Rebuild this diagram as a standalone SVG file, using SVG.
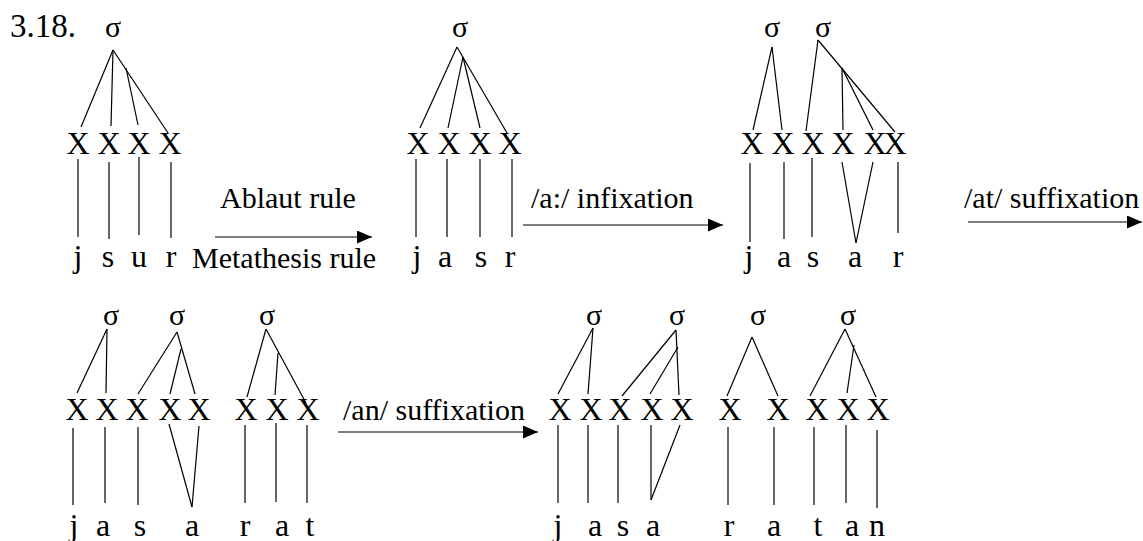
<svg xmlns="http://www.w3.org/2000/svg" width="1143" height="541" viewBox="0 0 1143 541" font-family="Times New Roman, Times, Liberation Serif, Nimbus Roman, DejaVu Serif, serif">
  <defs>
    <marker id="arrowhead" markerUnits="userSpaceOnUse" markerWidth="16" markerHeight="14" refX="15" refY="6.5" orient="auto">
      <path d="M0,0 L15,6.5 L0,13 z" fill="#000"/>
    </marker>
    <style>
      text { font-family: "Times New Roman", Times, "Liberation Serif", "Nimbus Roman", "DejaVu Serif", serif; fill: #000; }
      .num { font-size: 33px; }
      .sig { font-size: 30px; text-anchor: middle; }
      .x { font-size: 32px; text-anchor: middle; }
      .xx { font-size: 32px; letter-spacing: -3px; }
      .seg { font-size: 32px; text-anchor: middle; }
      .lbl { font-size: 30px; }
      .tree line { stroke: #000; stroke-width: 1.2; }
      .arrow { stroke: #000; stroke-width: 2.6; fill: none; marker-end: url(#arrowhead); }
    </style>
  </defs>
  <rect width="1143" height="541" fill="#fff"/>

  <text class="num" x="10" y="37">3.18.</text>

  <!-- Stage 1: j s u r -->
  <g id="stage-jsur">
    <text class="sig" x="113" y="37">σ</text>
    <text class="x" x="78" y="154">X</text>
    <text class="x" x="109" y="154">X</text>
    <text class="x" x="139" y="154">X</text>
    <text class="x" x="170" y="154">X</text>
    <text class="seg" x="78" y="267">j</text>
    <text class="seg" x="108" y="267">s</text>
    <text class="seg" x="139" y="267">u</text>
    <text class="seg" x="171" y="267">r</text>
  </g>

  <!-- Stage 2: j a s r -->
  <g id="stage-jasr">
    <text class="sig" x="460" y="37">σ</text>
    <text class="x" x="418" y="154">X</text>
    <text class="x" x="449" y="154">X</text>
    <text class="x" x="480" y="154">X</text>
    <text class="x" x="510" y="154">X</text>
    <text class="seg" x="417" y="267">j</text>
    <text class="seg" x="445" y="267">a</text>
    <text class="seg" x="481" y="267">s</text>
    <text class="seg" x="510" y="267">r</text>
  </g>

  <!-- Stage 3: j a s a r (last two skeletal slots set tight) -->
  <g id="stage-jasar">
    <text class="sig" x="772" y="37">σ</text>
    <text class="sig" x="823" y="37">σ</text>
    <text class="x" x="752" y="154">X</text>
    <text class="x" x="783" y="154">X</text>
    <text class="x" x="813" y="154">X</text>
    <text class="x" x="843" y="154">X</text>
    <text class="xx" x="863.5" y="154">XX</text>
    <text class="seg" x="749" y="267">j</text>
    <text class="seg" x="784" y="267">a</text>
    <text class="seg" x="813" y="267">s</text>
    <text class="seg" x="855" y="267">a</text>
    <text class="seg" x="898" y="267">r</text>
  </g>

  <!-- Stage 4: j a s a r a t -->
  <g id="stage-jasarat">
    <text class="sig" x="111" y="325">σ</text>
    <text class="sig" x="177" y="325">σ</text>
    <text class="sig" x="267" y="325">σ</text>
    <text class="x" x="77" y="420">X</text>
    <text class="x" x="107" y="420">X</text>
    <text class="x" x="137" y="420">X</text>
    <text class="x" x="170" y="420">X</text>
    <text class="x" x="199" y="420">X</text>
    <text class="x" x="246" y="420">X</text>
    <text class="x" x="277" y="420">X</text>
    <text class="x" x="308" y="420">X</text>
    <text class="seg" x="74" y="536">j</text>
    <text class="seg" x="103" y="536">a</text>
    <text class="seg" x="140" y="536">s</text>
    <text class="seg" x="192" y="536">a</text>
    <text class="seg" x="245" y="536">r</text>
    <text class="seg" x="282" y="536">a</text>
    <text class="seg" x="310" y="536">t</text>
  </g>

  <!-- Stage 5: j a s a r a t a n -->
  <g id="stage-jasaratan">
    <text class="sig" x="594" y="325">σ</text>
    <text class="sig" x="677" y="325">σ</text>
    <text class="sig" x="758" y="325">σ</text>
    <text class="sig" x="848" y="325">σ</text>
    <text class="x" x="560" y="420">X</text>
    <text class="x" x="591" y="420">X</text>
    <text class="x" x="620" y="420">X</text>
    <text class="x" x="652" y="420">X</text>
    <text class="x" x="682" y="420">X</text>
    <text class="x" x="730" y="420">X</text>
    <text class="x" x="778" y="420">X</text>
    <text class="x" x="817" y="420">X</text>
    <text class="x" x="848" y="420">X</text>
    <text class="x" x="878" y="420">X</text>
    <text class="seg" x="558" y="536">j</text>
    <text class="seg" x="595" y="536">a</text>
    <text class="seg" x="623" y="536">s</text>
    <text class="seg" x="653" y="536">a</text>
    <text class="seg" x="729" y="536">r</text>
    <text class="seg" x="774" y="536">a</text>
    <text class="seg" x="818" y="536">t</text>
    <text class="seg" x="852" y="536">a</text>
    <text class="seg" x="877" y="536">n</text>
  </g>

  <!-- Rule labels -->
  <g id="rule-labels">
    <text class="lbl" x="220" y="208">Ablaut rule</text>
    <text class="lbl" x="192" y="268">Metathesis rule</text>
    <text class="lbl" x="531" y="208">/a:/ infixation</text>
    <text class="lbl" x="964" y="208">/at/ suffixation</text>
    <text class="lbl" x="343" y="420">/an/ suffixation</text>
  </g>

  <!-- Association lines and derivation arrows -->
  <g id="connectors" class="tree">
    <!-- stage 1 -->
    <line x1="113" y1="50" x2="81" y2="127"/>
    <line x1="113" y1="50" x2="111" y2="126"/>
    <line x1="126" y1="68" x2="138" y2="125"/>
    <line x1="113" y1="50" x2="168" y2="133"/>
    <line x1="78" y1="159" x2="78" y2="237"/>
    <line x1="109" y1="162" x2="109" y2="239"/>
    <line x1="139" y1="157" x2="139" y2="235"/>
    <line x1="171" y1="162" x2="171" y2="238"/>
    <!-- stage 2 -->
    <line x1="457" y1="47" x2="420" y2="128"/>
    <line x1="463" y1="57" x2="448" y2="128"/>
    <line x1="463" y1="57" x2="480" y2="128"/>
    <line x1="457" y1="47" x2="507" y2="133"/>
    <line x1="416" y1="159" x2="416" y2="237"/>
    <line x1="447" y1="159" x2="447" y2="237"/>
    <line x1="480" y1="159" x2="480" y2="237"/>
    <line x1="512" y1="159" x2="512" y2="237"/>
    <!-- stage 3 -->
    <line x1="772" y1="47" x2="753" y2="130"/>
    <line x1="772" y1="47" x2="782" y2="130"/>
    <line x1="818" y1="40" x2="806" y2="131"/>
    <line x1="818" y1="40" x2="895" y2="132"/>
    <line x1="842" y1="68" x2="843" y2="130"/>
    <line x1="842" y1="68" x2="873" y2="130"/>
    <line x1="750" y1="163" x2="750" y2="242"/>
    <line x1="784" y1="162" x2="784" y2="239"/>
    <line x1="812" y1="158" x2="812" y2="237"/>
    <line x1="842" y1="162" x2="856" y2="243"/>
    <line x1="873" y1="162" x2="856" y2="243"/>
    <line x1="898" y1="162" x2="898" y2="233"/>
    <!-- stage 4 -->
    <line x1="107" y1="329" x2="77" y2="393"/>
    <line x1="107" y1="329" x2="106" y2="393"/>
    <line x1="177" y1="332" x2="138" y2="394"/>
    <line x1="177" y1="332" x2="195" y2="394"/>
    <line x1="181" y1="349" x2="170" y2="394"/>
    <line x1="266" y1="329" x2="247" y2="397"/>
    <line x1="266" y1="329" x2="306" y2="403"/>
    <line x1="278" y1="353" x2="275" y2="395"/>
    <line x1="73" y1="428" x2="73" y2="505"/>
    <line x1="105" y1="427" x2="105" y2="503"/>
    <line x1="138" y1="427" x2="138" y2="505"/>
    <line x1="169" y1="424" x2="192" y2="507"/>
    <line x1="199" y1="426" x2="192" y2="507"/>
    <line x1="245" y1="425" x2="245" y2="503"/>
    <line x1="276" y1="423" x2="276" y2="502"/>
    <line x1="307" y1="425" x2="307" y2="503"/>
    <!-- stage 5 -->
    <line x1="593" y1="328" x2="558" y2="394"/>
    <line x1="593" y1="328" x2="588" y2="394"/>
    <line x1="676" y1="330" x2="622" y2="396"/>
    <line x1="676" y1="330" x2="679" y2="395"/>
    <line x1="678" y1="347" x2="650" y2="394"/>
    <line x1="752" y1="337" x2="727" y2="396"/>
    <line x1="752" y1="337" x2="778" y2="396"/>
    <line x1="845" y1="329" x2="810" y2="396"/>
    <line x1="845" y1="329" x2="876" y2="397"/>
    <line x1="854" y1="345" x2="847" y2="393"/>
    <line x1="558" y1="425" x2="558" y2="503"/>
    <line x1="588" y1="425" x2="588" y2="503"/>
    <line x1="618" y1="425" x2="618" y2="503"/>
    <line x1="651" y1="425" x2="651" y2="500"/>
    <line x1="680" y1="425" x2="651" y2="500"/>
    <line x1="728" y1="427" x2="728" y2="505"/>
    <line x1="774" y1="427" x2="774" y2="505"/>
    <line x1="814" y1="427" x2="814" y2="505"/>
    <line x1="846" y1="425" x2="846" y2="503"/>
    <line x1="877" y1="430" x2="877" y2="508"/>
    <!-- derivation arrows -->
    <line class="arrow" x1="215" y1="237" x2="372" y2="237"/>
    <line class="arrow" x1="523" y1="225" x2="723" y2="225"/>
    <line class="arrow" x1="968" y1="222" x2="1142" y2="222"/>
    <line class="arrow" x1="338" y1="432" x2="538" y2="432"/>
  </g>
</svg>
